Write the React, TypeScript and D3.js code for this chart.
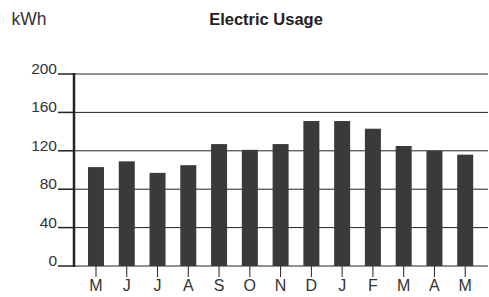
import * as d3 from 'd3';

const months = ['M', 'J', 'J', 'A', 'S', 'O', 'N', 'D', 'J', 'F', 'M', 'A', 'M'];
const usage = [103, 109, 97, 105, 127, 121, 127, 151, 151, 143, 125, 120, 116];
const yTicks = [0, 40, 80, 120, 160, 200];

const App = () => {
  const width = 489;
  const height = 297;
  const margin = { top: 74, right: 1, bottom: 31, left: 74 };

  // band scale keyed by index, since month letters repeat
  const x = d3.scaleBand<number>()
    .domain(months.map((_, i) => i))
    .range([80.6, 480.6])
    .paddingInner(0.48)
    .paddingOuter(0.24);

  const y = d3.scaleLinear()
    .domain([0, 200])
    .range([height - margin.bottom, margin.top]);

  const x0 = margin.left;
  const x1 = width - margin.right;
  const font = 'Liberation Sans, Arial, sans-serif';

  return (
    <svg width={width} height={height} style={{ position: 'absolute', left: 0, top: 0 }}>
      <text x={11.5} y={25} fontFamily={font} fontSize={17.5} fill="#333">kWh</text>
      <text x={266} y={24.5} textAnchor="middle" fontFamily={font} fontSize={16.5} fontWeight="bold" fill="#222">
        Electric Usage
      </text>

      {/* grid lines + y ticks */}
      {yTicks.map(t => (
        <g key={t}>
          <line x1={x0} x2={x1} y1={y(t)} y2={y(t)} stroke="#222" strokeWidth={1} />
          <line x1={58} x2={x0} y1={y(t)} y2={y(t)} stroke="#222" strokeWidth={1.5} />
          <text x={57} y={y(t)} textAnchor="end" fontFamily={font} fontSize={15.5} fill="#333">{t}</text>
        </g>
      ))}

      {/* bars */}
      {usage.map((v, i) => (
        <rect key={i} x={x(i)} y={y(v)} width={x.bandwidth()} height={y(0) - y(v)} fill="#3a3a3a" />
      ))}

      {/* x ticks and labels */}
      {months.map((m, i) => {
        const cx = (x(i) ?? 0) + x.bandwidth() / 2;
        return (
          <g key={i}>
            <line x1={cx} x2={cx} y1={y(0)} y2={y(0) + 11} stroke="#222" strokeWidth={1} />
            <text x={cx} y={291} textAnchor="middle" fontFamily={font} fontSize={16} fill="#333">{m}</text>
          </g>
        );
      })}

      {/* y axis */}
      <line x1={x0} x2={x0} y1={y(200) - 1} y2={y(0) + 1} stroke="#222" strokeWidth={2.5} />
    </svg>
  );
};

export default App;
